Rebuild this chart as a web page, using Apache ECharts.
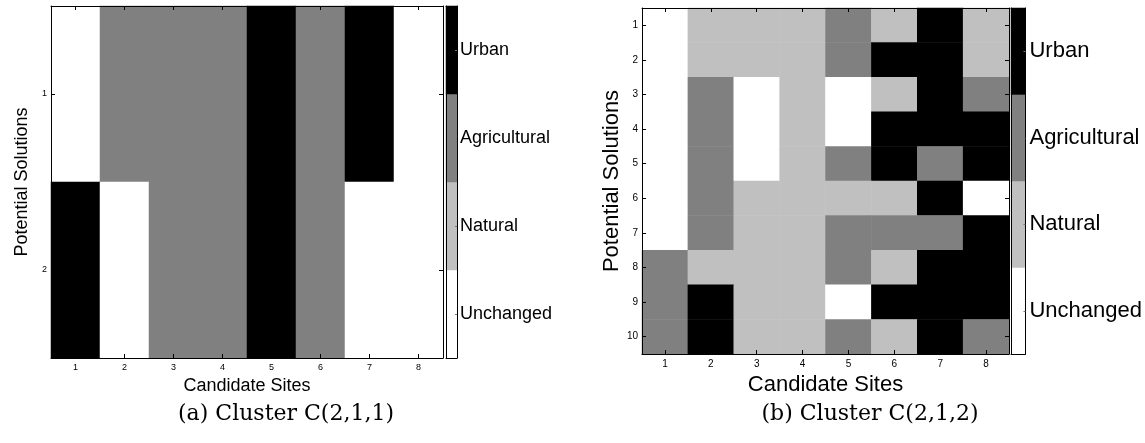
<!DOCTYPE html>
<html>
<head>
<meta charset="utf-8">
<style>
  html, body { margin: 0; padding: 0; background: #ffffff; }
  #chart { width: 1145px; height: 443px; }
</style>
<script src="https://cdn.jsdelivr.net/npm/echarts@6/dist/echarts.min.js"></script>
</head>
<body>
<div id="chart"></div>
<script>
// Candidate sites (columns) and potential solutions (rows)
const sites = ['1', '2', '3', '4', '5', '6', '7', '8'];
const solutionsA = ['1', '2'];
const solutionsB = ['1', '2', '3', '4', '5', '6', '7', '8', '9', '10'];

// Land-use classes: 0 Unchanged, 1 Natural, 2 Agricultural, 3 Urban
const landUse = ['Unchanged', 'Natural', 'Agricultural', 'Urban'];
const landUseColors = ['#ffffff', '#c0c0c0', '#808080', '#000000'];

// Cluster C(2,1,1): one row per solution, one value per site
const clusterA = [
  [0, 2, 2, 2, 3, 2, 3, 0],
  [3, 0, 2, 2, 3, 2, 0, 0]
];

// Cluster C(2,1,2)
const clusterB = [
  [0, 1, 1, 1, 2, 1, 3, 1],
  [0, 1, 1, 1, 2, 3, 3, 1],
  [0, 2, 0, 1, 0, 1, 3, 2],
  [0, 2, 0, 1, 0, 3, 3, 3],
  [0, 2, 0, 1, 2, 3, 2, 3],
  [0, 2, 1, 1, 1, 1, 3, 0],
  [0, 2, 1, 1, 2, 2, 2, 3],
  [2, 1, 1, 1, 2, 1, 3, 3],
  [2, 3, 1, 1, 0, 3, 3, 3],
  [2, 3, 1, 1, 2, 1, 3, 2]
];

function toCells(matrix) {
  const cells = [];
  matrix.forEach((row, r) => row.forEach((v, c) => cells.push([c, r, v])));
  return cells;
}
const barCells = landUse.map((_, i) => [0, i, i]);

const FONT = '"Liberation Sans", Arial, Helvetica, sans-serif';
const line = { show: true, lineStyle: { color: '#000', width: 1 } };
const AXIS_Z = 10;

function heatAxes(gi, rows, tickSize, nameSize, xGap, yGap) {
  const tick = { show: true, inside: true, alignWithLabel: true, length: 4, lineStyle: { color: '#000' } };
  return {
    x: [
      { type: 'category', gridIndex: gi, data: sites, position: 'bottom', z: AXIS_Z,
        axisLine: line, axisTick: tick,
        axisLabel: { fontFamily: FONT, fontSize: tickSize, color: '#000', margin: 5 },
        name: 'Candidate Sites', nameLocation: 'middle', nameGap: xGap,
        nameTextStyle: { fontFamily: FONT, fontSize: nameSize, color: '#000' } },
      { type: 'category', gridIndex: gi, data: sites, position: 'top', z: AXIS_Z,
        axisLine: line, axisTick: tick, axisLabel: { show: false } }
    ],
    y: [
      { type: 'category', gridIndex: gi, data: rows, inverse: true, position: 'left', z: AXIS_Z,
        axisLine: line, axisTick: tick,
        axisLabel: { fontFamily: FONT, fontSize: tickSize, color: '#000', margin: 4 },
        name: 'Potential Solutions', nameLocation: 'middle', nameGap: yGap,
        nameTextStyle: { fontFamily: FONT, fontSize: nameSize, color: '#000' } },
      { type: 'category', gridIndex: gi, data: rows, inverse: true, position: 'right', z: AXIS_Z,
        axisLine: line, axisTick: tick, axisLabel: { show: false } }
    ]
  };
}

function barAxes(gi, labelSize, margin) {
  const noTick = { show: false };
  return {
    x: [
      { type: 'category', gridIndex: gi, data: [''], position: 'bottom', z: AXIS_Z,
        axisLine: line, axisTick: noTick, axisLabel: { show: false } },
      { type: 'category', gridIndex: gi, data: [''], position: 'top', z: AXIS_Z,
        axisLine: line, axisTick: noTick, axisLabel: { show: false } }
    ],
    y: [
      { type: 'category', gridIndex: gi, data: landUse, position: 'right', z: AXIS_Z,
        axisLine: line,
        axisTick: { show: true, inside: true, alignWithLabel: true, length: 2, lineStyle: { color: '#777' } },
        axisLabel: { fontFamily: FONT, fontSize: labelSize, color: '#000', margin: margin } },
      { type: 'category', gridIndex: gi, data: landUse, position: 'left', z: AXIS_Z,
        axisLine: line, axisTick: noTick, axisLabel: { show: false } }
    ]
  };
}

const hA = heatAxes(0, solutionsA, 9, 18, 15, 20);
const cA = barAxes(1, 18, 3);
const hB = heatAxes(2, solutionsB, 10, 22, 13, 17);
const cB = barAxes(3, 22, 4);

const xAxes = [].concat(hA.x, cA.x, hB.x, cB.x);
const yAxes = [].concat(hA.y, cA.y, hB.y, cB.y);

const chart = echarts.init(document.getElementById('chart'), null, { renderer: 'canvas' });
chart.setOption({
  backgroundColor: '#ffffff',
  animation: false,
  title: [
    { text: '(a) Cluster C(2,1,1)', left: 281, top: 398, textAlign: 'center',
      textStyle: { fontFamily: '"DejaVu Serif", serif', fontSize: 22, fontWeight: 'normal', color: '#000' } },
    { text: '(b) Cluster C(2,1,2)', left: 865, top: 398, textAlign: 'center',
      textStyle: { fontFamily: '"DejaVu Serif", serif', fontSize: 22, fontWeight: 'normal', color: '#000' } }
  ],
  grid: [
    { left: 51, top: 6, width: 392, height: 352 },
    { left: 446, top: 6, width: 11, height: 352 },
    { left: 642, top: 8, width: 367, height: 346 },
    { left: 1011, top: 8, width: 15, height: 346 }
  ],
  xAxis: xAxes,
  yAxis: yAxes,
  visualMap: {
    type: 'piecewise', show: false, dimension: 2,
    seriesIndex: [0, 1, 2, 3],
    pieces: landUse.map((_, i) => ({ value: i, color: landUseColors[i] }))
  },
  series: [
    { type: 'heatmap', z: 1, xAxisIndex: 0, yAxisIndex: 0, data: toCells(clusterA) },
    { type: 'heatmap', z: 1, xAxisIndex: 2, yAxisIndex: 2, data: barCells },
    { type: 'heatmap', z: 1, xAxisIndex: 4, yAxisIndex: 4, data: toCells(clusterB) },
    { type: 'heatmap', z: 1, xAxisIndex: 6, yAxisIndex: 6, data: barCells }
  ]
});
</script>
</body>
</html>
